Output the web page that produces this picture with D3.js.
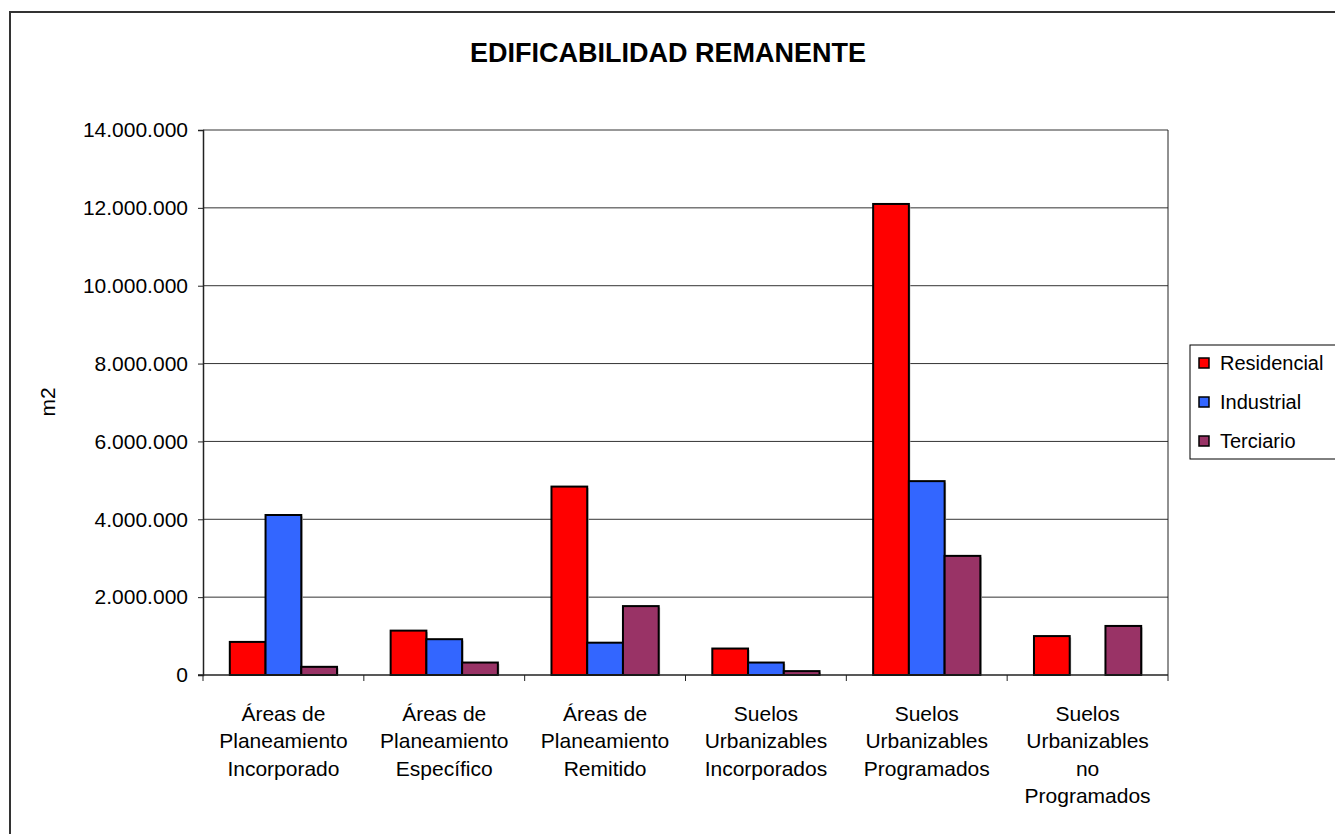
<!DOCTYPE html>
<html>
<head>
<meta charset="utf-8">
<script src="https://cdn.jsdelivr.net/npm/d3@7"></script>
<style>
  body { margin: 0; background: #fff; }
  svg { display: block; font-family: "Liberation Sans", Arial, sans-serif; }
</style>
</head>
<body>
<div id="chart"></div>
<script>
const width = 1335;
const height = 834;

const categories = [
  ["Áreas de", "Planeamiento", "Incorporado"],
  ["Áreas de", "Planeamiento", "Específico"],
  ["Áreas de", "Planeamiento", "Remitido"],
  ["Suelos", "Urbanizables", "Incorporados"],
  ["Suelos", "Urbanizables", "Programados"],
  ["Suelos", "Urbanizables", "no", "Programados"]
];
const seriesNames = ["Residencial", "Industrial", "Terciario"];
const seriesColors = ["#ff0000", "#3366ff", "#993366"];
const residencial = [850000, 1140000, 4840000, 680000, 12100000, 1000000];
const industrial = [4110000, 920000, 830000, 320000, 4980000, 0];
const terciario = [210000, 320000, 1770000, 100000, 3060000, 1260000];
const yTicks = [0, 2000000, 4000000, 6000000, 8000000, 10000000, 12000000, 14000000];

const values = [residencial, industrial, terciario];
const catIds = categories.map((c, i) => i);

const plot = { left: 203, right: 1168, top: 130, bottom: 675 };

const locale = d3.formatLocale({ decimal: ",", thousands: ".", grouping: [3], currency: ["", ""] });
const fmt = locale.format(",d");

const svg = d3.select("#chart")
              .append("svg")
              .attr("width", width)
              .attr("height", height);

// outer chart border
svg.append("rect")
   .attr("x", 10)
   .attr("y", 12)
   .attr("width", width + 20)
   .attr("height", height + 20)
   .attr("fill", "#fff")
   .attr("stroke", "#333")
   .attr("stroke-width", 2);

const x = d3.scaleBand()
            .domain(catIds)
            .range([plot.left, plot.right]);

const xs = d3.scaleBand()
             .domain(seriesNames)
             .range([0, x.bandwidth()])
             .paddingInner(0)
             .paddingOuter(0.75);

const y = d3.scaleLinear()
            .domain([0, 14000000])
            .range([plot.bottom, plot.top]);

// gridlines
svg.append("g")
   .selectAll("line")
   .data(yTicks.slice(1))
   .enter()
   .append("line")
   .attr("x1", plot.left)
   .attr("x2", plot.right)
   .attr("y1", d => y(d))
   .attr("y2", d => y(d))
   .attr("stroke", "#333")
   .attr("stroke-width", 1);

// right border of plot area
svg.append("line")
   .attr("x1", plot.right)
   .attr("x2", plot.right)
   .attr("y1", plot.top)
   .attr("y2", plot.bottom)
   .attr("stroke", "#222");

// bars
const group = svg.append("g")
                 .selectAll("g")
                 .data(catIds)
                 .enter()
                 .append("g")
                 .attr("transform", i => `translate(${x(i)},0)`);

const barData = i => seriesNames.map((s, k) => ({ s, k, v: values[k][i] })).filter(d => d.v > 0);

// faint shadow behind bars
group.selectAll("rect.shadow")
     .data(barData)
     .enter()
     .append("rect")
     .attr("class", "shadow")
     .attr("x", d => xs(d.s) + 1.5)
     .attr("y", d => y(d.v) + 1.5)
     .attr("width", xs.bandwidth())
     .attr("height", d => y(0) - y(d.v) - 1.5)
     .attr("fill", "#bbb");

group.selectAll("rect.bar")
     .data(barData)
     .enter()
     .append("rect")
     .attr("class", "bar")
     .attr("x", d => xs(d.s))
     .attr("y", d => y(d.v))
     .attr("width", xs.bandwidth())
     .attr("height", d => y(0) - y(d.v))
     .attr("fill", d => seriesColors[d.k])
     .attr("stroke", "#000")
     .attr("stroke-width", 2);

// y axis
const yAxis = d3.axisLeft(y)
                .tickValues(yTicks)
                .tickFormat(fmt)
                .tickSize(5)
                .tickPadding(10);

const gy = svg.append("g")
              .attr("transform", `translate(${plot.left},0)`)
              .call(yAxis);
gy.select(".domain").attr("stroke", "#222").attr("stroke-width", 1.5);
gy.selectAll(".tick line").attr("stroke", "#222");
gy.selectAll(".tick text")
  .attr("font-size", 21)
  .attr("font-family", "Liberation Sans, Arial, sans-serif")
  .attr("fill", "#000");

// x axis line and ticks at category boundaries
svg.append("line")
   .attr("x1", plot.left - 5)
   .attr("x2", plot.right)
   .attr("y1", plot.bottom)
   .attr("y2", plot.bottom)
   .attr("stroke", "#222")
   .attr("stroke-width", 1.5);

const bounds = catIds.map(i => x(i)).concat([plot.right]);
svg.append("g")
   .selectAll("line")
   .data(bounds)
   .enter()
   .append("line")
   .attr("x1", d => d)
   .attr("x2", d => d)
   .attr("y1", plot.bottom)
   .attr("y2", plot.bottom + 6)
   .attr("stroke", "#222");

// category labels
const labels = svg.append("g")
                  .selectAll("text")
                  .data(catIds)
                  .enter()
                  .append("text")
                  .attr("text-anchor", "middle")
                  .attr("font-size", 21)
                  .attr("fill", "#000");

labels.selectAll("tspan")
      .data(i => categories[i].map(t => ({ t, cx: x(i) + x.bandwidth() / 2 })))
      .enter()
      .append("tspan")
      .attr("x", d => d.cx)
      .attr("y", (d, j) => 721 + j * 27.3)
      .text(d => d.t);

// title
svg.append("text")
   .attr("x", 668)
   .attr("y", 62)
   .attr("text-anchor", "middle")
   .attr("font-size", 27)
   .attr("font-weight", "bold")
   .text("EDIFICABILIDAD REMANENTE");

// y axis title
svg.append("text")
   .attr("transform", "translate(55,402) rotate(-90)")
   .attr("text-anchor", "middle")
   .attr("font-size", 21)
   .text("m2");

// legend
const legendBox = svg.append("g")
                     .attr("transform", "translate(1190,345)");

legendBox.append("rect")
         .attr("width", 170)
         .attr("height", 114)
         .attr("fill", "#fff")
         .attr("stroke", "#000")
         .attr("stroke-width", 1);

const legend = legendBox.selectAll("g.item")
                        .data(seriesNames)
                        .enter()
                        .append("g")
                        .attr("class", "item")
                        .attr("transform", (d, i) => `translate(0,${18 + i * 39})`);

legend.append("rect")
      .attr("x", 9)
      .attr("y", -5)
      .attr("width", 10)
      .attr("height", 10)
      .attr("fill", (d, i) => seriesColors[i])
      .attr("stroke", "#000")
      .attr("stroke-width", 1.5);

legend.append("text")
      .attr("x", 30)
      .attr("dy", "0.35em")
      .attr("font-size", 20)
      .text(d => d);
</script>
</body>
</html>
